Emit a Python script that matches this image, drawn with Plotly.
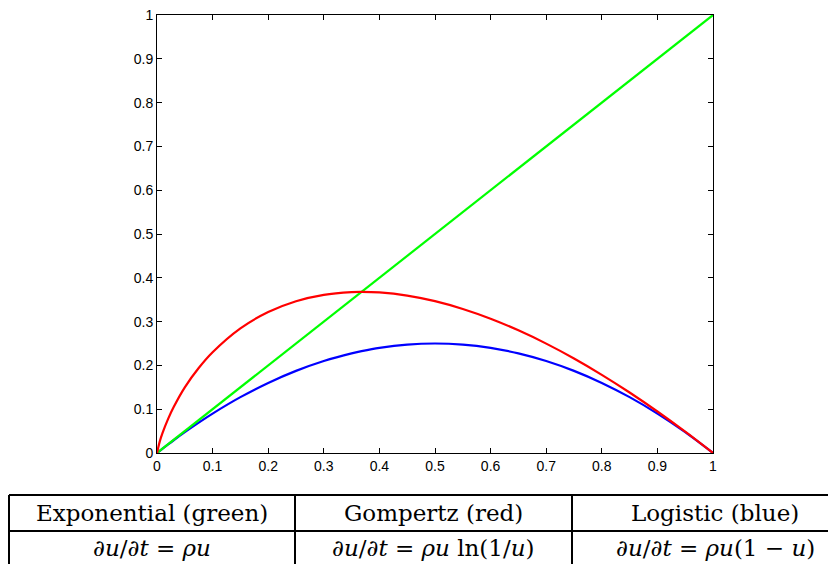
import plotly.graph_objects as go

# ---- data ----
u_vals = [0, 0.005, 0.01, 0.02, 0.03, 0.05, 0.075, 0.1, 0.15, 0.2, 0.25, 0.3, 0.35,
          0.3679, 0.4, 0.45, 0.5, 0.55, 0.6, 0.65, 0.7, 0.75, 0.8, 0.85, 0.9, 0.95, 1.0]
exponential = [0, 0.005, 0.01, 0.02, 0.03, 0.05, 0.075, 0.1, 0.15, 0.2, 0.25, 0.3, 0.35,
               0.3679, 0.4, 0.45, 0.5, 0.55, 0.6, 0.65, 0.7, 0.75, 0.8, 0.85, 0.9, 0.95, 1.0]
gompertz = [0, 0.0265, 0.046, 0.078, 0.105, 0.150, 0.194, 0.230, 0.2846, 0.3219, 0.3466,
            0.3612, 0.3674, 0.3679, 0.3665, 0.3593, 0.3466, 0.3288, 0.3065, 0.2800,
            0.2497, 0.2158, 0.1785, 0.1381, 0.0948, 0.0487, 0]
logistic = [0, 0.005, 0.0099, 0.0196, 0.0291, 0.0475, 0.0694, 0.09, 0.1275, 0.16, 0.1875,
            0.21, 0.2275, 0.2325, 0.24, 0.2475, 0.25, 0.2475, 0.24, 0.2275, 0.21, 0.1875,
            0.16, 0.1275, 0.09, 0.0475, 0]
tick_vals = [0, 0.1, 0.2, 0.3, 0.4, 0.5, 0.6, 0.7, 0.8, 0.9, 1]
tick_text = ["0", "0.1", "0.2", "0.3", "0.4", "0.5", "0.6", "0.7", "0.8", "0.9", "1"]
table_header = ["Exponential (green)", "Gompertz (red)", "Logistic (blue)"]
table_eqs = ["∂<i>u</i>/∂<i>t</i> = <i>ρu</i>",
             "∂<i>u</i>/∂<i>t</i> = <i>ρu</i> ln(1/<i>u</i>)",
             "∂<i>u</i>/∂<i>t</i> = <i>ρu</i>(1 − <i>u</i>)"]

W, H = 828, 564
L, R, T, B = 157, 713, 15, 453

fig = go.Figure()
fig.add_trace(go.Scatter(x=u_vals, y=logistic, mode="lines",
                         line=dict(color="#0000ff", width=2.2, shape="spline", smoothing=0.8),
                         hoverinfo="skip"))
fig.add_trace(go.Scatter(x=u_vals, y=exponential, mode="lines",
                         line=dict(color="#00ff00", width=2.2), hoverinfo="skip"))
fig.add_trace(go.Scatter(x=u_vals, y=gompertz, mode="lines",
                         line=dict(color="#ff0000", width=2.2, shape="spline", smoothing=0.8),
                         hoverinfo="skip"))

def px(xp):
    return (xp - L) / (R - L)

def py(yp):
    return (B - yp) / (B - T)

shapes = []
line = dict(color="black", width=2)
# table lines (pixel positions converted to paper)
y_top, y_mid, y_bot = 495, 531, 570
x_left, x_d1, x_d2, x_right = 9, 295, 572, 840
for yy in (y_top, y_mid):
    shapes.append(dict(type="line", xref="paper", yref="paper",
                       x0=px(x_left), x1=px(x_right), y0=py(yy), y1=py(yy), line=line))
for xx in (x_left, x_d1, x_d2):
    shapes.append(dict(type="line", xref="paper", yref="paper",
                       x0=px(xx), x1=px(xx), y0=py(y_top), y1=py(y_bot), line=line))

annotations = []
centers = [152, 433, 715]
tfont = dict(family="DejaVu Serif", size=23, color="black")
for cx, h, e in zip(centers, table_header, table_eqs):
    annotations.append(dict(x=px(cx), y=py(513), xref="paper", yref="paper", text=h,
                            showarrow=False, font=tfont, xanchor="center", yanchor="middle"))
    annotations.append(dict(x=px(cx), y=py(548), xref="paper", yref="paper", text=e,
                            showarrow=False, font=tfont, xanchor="center", yanchor="middle"))

axis_common = dict(range=[0, 1], tickvals=tick_vals, ticktext=tick_text, ticks="inside",
                   ticklen=5, tickwidth=1, tickcolor="black", showline=True, linecolor="black",
                   linewidth=1, mirror="ticks", showgrid=False, zeroline=False,
                   automargin=False,
                   tickfont=dict(family="Liberation Sans", size=14, color="black"))

fig.update_layout(
    width=W, height=H,
    margin=dict(l=L, r=W - R, t=T, b=H - B, pad=0),
    paper_bgcolor="white", plot_bgcolor="white",
    showlegend=False,
    xaxis=axis_common,
    yaxis=axis_common,
    shapes=shapes,
    annotations=annotations,
)

fig.write_html("out.html", config={"displayModeBar": False, "staticPlot": True},
               post_script="document.body.style.margin='0';")
